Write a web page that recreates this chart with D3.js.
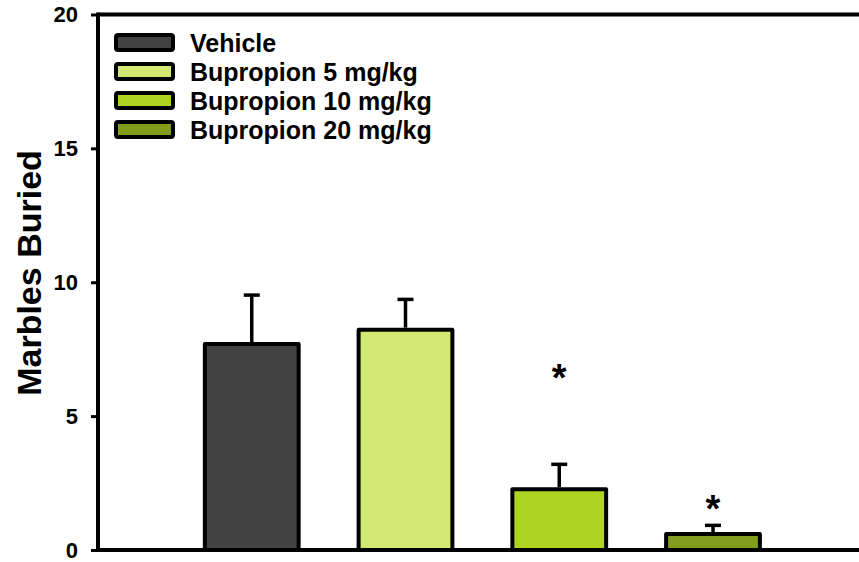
<!DOCTYPE html>
<html>
<head>
<meta charset="utf-8">
<script src="https://cdn.jsdelivr.net/npm/d3@7"></script>
<style>
  html, body { margin: 0; padding: 0; background: #fff; }
  svg { display: block; font-family: Arial, "Liberation Sans", Helvetica, sans-serif; }
</style>
</head>
<body>
<svg id="chart" width="859" height="562"></svg>
<script>
const categories = ["Vehicle", "Bupropion 5 mg/kg", "Bupropion 10 mg/kg", "Bupropion 20 mg/kg"];
const means = [7.69, 8.23, 2.27, 0.60];
const sems = [1.83, 1.13, 0.93, 0.32];
const significant = [false, false, true, true];
const starLevel = [null, null, 6.6, 1.7];
const colors = ["#424242", "#d1e972", "#acd420", "#829c1c"];
const yTicks = [0, 5, 10, 15, 20];
const yLabel = "Marbles Buried";

const svg = d3.select("#chart");
const mLeft = 98, mTop = 14.5, mBottom = 550;
const step = 153.75;
const mRight = mLeft + 5 * step;

const y = d3.scaleLinear().domain([0, 20]).range([mBottom, mTop]);
const x = d3.scaleBand().domain(categories)
  .range([mLeft + 0.5 * step, mLeft + 4.5 * step])
  .paddingInner(0.39).paddingOuter(0.195);

// Bars
svg.append("g").selectAll("rect").data(categories).join("rect")
  .attr("x", d => x(d))
  .attr("y", (d, i) => y(means[i]))
  .attr("width", x.bandwidth())
  .attr("height", (d, i) => y(0) - y(means[i]))
  .attr("fill", (d, i) => colors[i])
  .attr("stroke", "#000")
  .attr("stroke-width", 4)
  .attr("stroke-linejoin", "round");

// Error bars (upper only)
const eb = svg.append("g").attr("stroke", "#000").attr("stroke-width", 3.5);
categories.forEach((c, i) => {
  const cx = x(c) + x.bandwidth() / 2;
  eb.append("line").attr("x1", cx).attr("x2", cx)
    .attr("y1", y(means[i]) - 2).attr("y2", y(means[i] + sems[i]));
  eb.append("line").attr("x1", cx - 8).attr("x2", cx + 8)
    .attr("y1", y(means[i] + sems[i])).attr("y2", y(means[i] + sems[i]));
});

// Significance stars
svg.append("g").selectAll("text").data(categories.filter((c, i) => significant[i])).join("text")
  .attr("x", d => x(d) + x.bandwidth() / 2)
  .attr("y", d => y(starLevel[categories.indexOf(d)]) + 18)
  .attr("text-anchor", "middle")
  .attr("font-size", 38)
  .attr("font-weight", "bold")
  .text("*");

// Frame lines: top and bottom
svg.append("line").attr("x1", mLeft).attr("x2", mRight).attr("y1", y(20)).attr("y2", y(20))
  .attr("stroke", "#000").attr("stroke-width", 4);
svg.append("line").attr("x1", mLeft).attr("x2", mRight).attr("y1", y(0)).attr("y2", y(0))
  .attr("stroke", "#000").attr("stroke-width", 4);

// Y axis
const yAxis = svg.append("g").attr("transform", `translate(${mLeft},0)`)
  .call(d3.axisLeft(y).tickValues(yTicks).tickSize(7).tickPadding(13).tickFormat(d3.format("d")));
yAxis.select(".domain").attr("stroke", "#000").attr("stroke-width", 4)
  .attr("d", `M0,${y(20) - 2}V${y(0) + 2}`);
yAxis.selectAll(".tick line").attr("stroke", "#000").attr("stroke-width", 3);
yAxis.selectAll(".tick text").attr("font-size", 22).attr("font-weight", "bold")
  .attr("fill", "#000").attr("font-family", "Arial, 'Liberation Sans', sans-serif");

// Y label
svg.append("text")
  .attr("transform", `translate(41,273) rotate(-90)`)
  .attr("text-anchor", "middle")
  .attr("font-size", 34)
  .attr("font-weight", "bold")
  .text(yLabel);

// Legend
const lg = svg.append("g").attr("transform", "translate(116,43)");
categories.forEach((c, i) => {
  const g = lg.append("g").attr("transform", `translate(0,${i * 29})`);
  g.append("rect").attr("x", 0).attr("y", -8).attr("width", 57).attr("height", 15)
    .attr("rx", 2).attr("fill", colors[i]).attr("stroke", "#000").attr("stroke-width", 4);
  g.append("text").attr("x", 74).attr("y", 9)
    .attr("font-size", 25).attr("font-weight", "bold").text(c);
});
</script>
</body>
</html>
